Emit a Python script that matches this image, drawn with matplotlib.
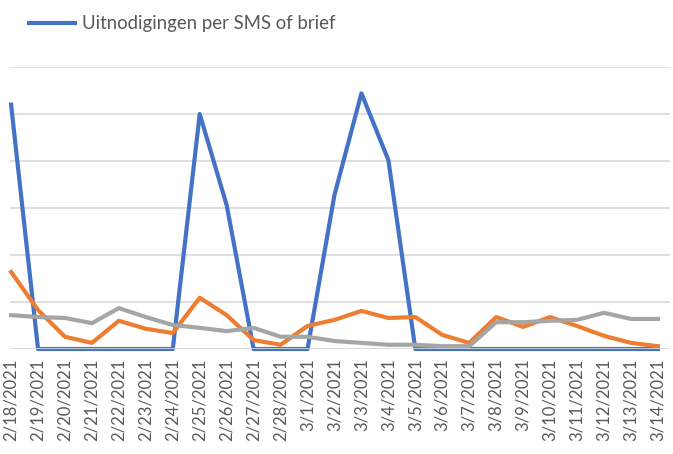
import matplotlib
matplotlib.use('Agg')
import matplotlib.pyplot as plt
from matplotlib.lines import Line2D

dates = ['2/18/2021', '2/19/2021', '2/20/2021', '2/21/2021', '2/22/2021', '2/23/2021',
         '2/24/2021', '2/25/2021', '2/26/2021', '2/27/2021', '2/28/2021', '3/1/2021',
         '3/2/2021', '3/3/2021', '3/4/2021', '3/5/2021', '3/6/2021', '3/7/2021',
         '3/8/2021', '3/9/2021', '3/10/2021', '3/11/2021', '3/12/2021', '3/13/2021',
         '3/14/2021']

uitnodigingen = [2600, 0, 0, 0, 0, 0, 0, 2500, 1530, 0, 0, 0, 1640, 2720, 2010,
                 0, 0, 0, 0, 0, 0, 0, 0, 0, 0]
oranje = [820, 415, 130, 65, 300, 215, 170, 545, 360, 95, 45, 245, 310, 405, 330,
          340, 150, 65, 340, 235, 340, 245, 140, 65, 30]
grijs = [360, 340, 330, 275, 435, 340, 255, 225, 190, 225, 130, 130, 85, 65, 45,
         45, 30, 30, 285, 285, 300, 310, 385, 320, 320]

plt.rcParams['font.family'] = ['Lato', 'DejaVu Sans']

fig = plt.figure(figsize=(6.73, 4.54), dpi=100)
ax = fig.add_axes([10 / 673, 105 / 454, 660 / 673, 282 / 454])

x = list(range(len(dates)))
ax.plot(x, uitnodigingen, color='#4472C4', lw=3.0, clip_on=False, zorder=2)
ax.plot(x, oranje, color='#ED7D31', lw=3.0, clip_on=False, zorder=3)
ax.plot(x, grijs, color='#A5A5A5', lw=3.0, clip_on=False, zorder=4)

ax.set_xlim(-0.04, 24.45)
ax.set_ylim(0, 3000)
ax.set_yticks(range(0, 3001, 500))
ax.yaxis.grid(True, color='#d9d9d9', lw=1.2)
ax.set_axisbelow(True)
ax.axhline(0, color='#d9d9d9', lw=1.2, zorder=5)
ax.tick_params(axis='y', left=False, labelleft=False)

ax.set_xticks(x)
ax.set_xticklabels(dates, rotation=90, fontsize=12, color='#595959')
ax.tick_params(axis='x', length=0, pad=7)
for s in ax.spines.values():
    s.set_visible(False)

handle = Line2D([], [], color='#4472C4', lw=3.0)
fig.legend([handle], ['Uitnodigingen per SMS of brief'], loc='center left',
           bbox_to_anchor=(12 / 673, 1 - 24 / 454), frameon=False, fontsize=13.4,
           labelcolor='#595959', handlelength=2.5, handletextpad=0.35)

fig.savefig('out.png', dpi=100, facecolor='white')
